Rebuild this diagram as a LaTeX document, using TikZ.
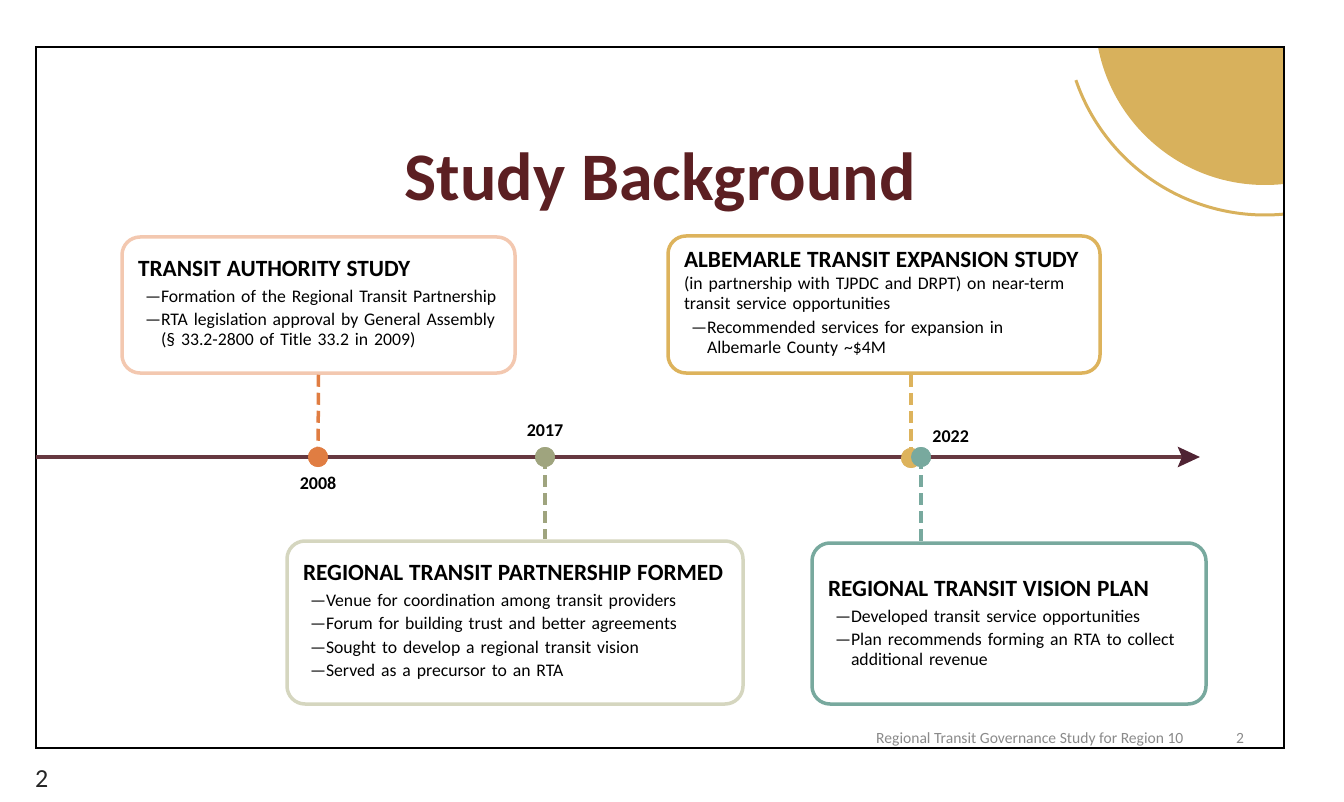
\documentclass[tikz,border=0pt]{standalone}
\usepackage{fontspec}
\setmainfont{Carlito}
\usetikzlibrary{positioning, arrows.meta, calc}
\definecolor{titlered}{HTML}{5C1F22}
\definecolor{axisline}{HTML}{663840}
\definecolor{axistip}{HTML}{4F2333}
\definecolor{peachline}{HTML}{F3C8B0}
\definecolor{orangedot}{HTML}{E07D42}
\definecolor{goldline}{HTML}{DDB35C}
\definecolor{golddeco}{HTML}{D8B15C}
\definecolor{sageline}{HTML}{D5D6BF}
\definecolor{sagedot}{HTML}{9FA47E}
\definecolor{tealline}{HTML}{78A99E}
\definecolor{footgray}{HTML}{8A8A8A}

\newcommand{\tltitle}[1]{{\fontsize{23.3}{26}\selectfont\bfseries #1\par}\vskip2pt}
\newcommand{\tlitem}[1]{\vskip3.5pt\leftskip=7pt\hangindent=16pt\hangafter=1\noindent\makebox[16pt][l]{—}#1\par}

\begin{document}
\begin{tikzpicture}[
    x=1pt, y=-1pt,
    font=\fontsize{17.7}{20}\selectfont,
    milestone/.style={rectangle, rounded corners=18pt, draw=#1, line width=3.5pt, fill=white,
      inner xsep=16pt, inner ysep=0pt, align=left},
    yeardot/.style={circle, fill=#1, minimum size=20pt, inner sep=0pt},
    yearlabel/.style={inner sep=0pt, font=\fontsize{18}{20}\selectfont\bfseries},
    linkline/.style={draw=#1, line width=3.5pt, dash pattern=on 12pt off 6pt}
]
    \useasboundingbox (0,0) rectangle (1344,802);

    % corner decoration
    \begin{scope}
      \clip (36,47) rectangle (1284,748);
      \fill[golddeco] (1265,15) circle[radius=170];
    \end{scope}
    \draw[golddeco, line width=3pt] (1265,15) ++(161:200) arc[start angle=161, end angle=84.5, radius=200];

    % slide frame
    \draw[line width=2pt] (36,47) rectangle (1284,748);

    % title
    \node[anchor=base, text=titlered, font=\fontsize{68}{70}\selectfont\bfseries] (title) at (660,201) {Study Background};

    % milestone boxes
    \node[milestone=peachline, minimum width=393pt, minimum height=136pt, text width=361pt] (authority) at (318.5,305)
      {\tltitle{TRANSIT AUTHORITY STUDY}
       \tlitem{Formation of the Regional Transit Partnership}
       \tlitem{RTA legislation approval by General Assembly\newline (§ 33.2-2800 of Title 33.2 in 2009)}};
    \node[milestone=goldline, minimum width=432pt, minimum height=137pt, text width=400pt] (expansion) at (884,304.5)
      {\tltitle{ALBEMARLE TRANSIT EXPANSION STUDY}
       (in partnership with TJPDC and DRPT) on near-term\newline transit service opportunities\par
       \tlitem{Recommended services for expansion in\newline Albemarle County \char`~\$4M}};
    \node[milestone=sageline, minimum width=456pt, minimum height=163pt, text width=424pt] (partnership) at (515,622.5)
      {\tltitle{REGIONAL TRANSIT PARTNERSHIP FORMED}
       \tlitem{Venue for coordination among transit providers}
       \tlitem{Forum for building trust and better agreements}
       \tlitem{Sought to develop a regional transit vision}
       \tlitem{Served as a precursor to an RTA}};
    \node[milestone=tealline, minimum width=394pt, minimum height=161pt, text width=362pt] (visionplan) at (1009,623.5)
      {\tltitle{REGIONAL TRANSIT VISION PLAN}
       \tlitem{Developed transit service opportunities}
       \tlitem{Plan recommends forming an RTA to collect\newline additional revenue}};

    % timeline
    \coordinate (tlstart) at (36,457);
    \coordinate (tlend) at (1200,457);
    \node[yeardot=orangedot] (y2008) at (318,457) {};
    \node[yeardot=sagedot] (y2017) at (545,457) {};
    \node[yeardot=goldline] (y2022a) at (911,458) {};
    \node[yeardot=tealline] (y2022b) at (921,457) {};

    \draw[linkline=orangedot] (authority.south) -- (y2008.center);
    \draw[linkline=sagedot] (y2017.center) -- (partnership.north -| y2017);
    \draw[linkline=goldline] (expansion.south -| y2022a) -- (y2022a.center);
    \draw[linkline=tealline] (y2022b.center) -- (visionplan.north -| y2022b);

    \draw[axisline, line width=4pt, -{Stealth[length=22pt, width=20pt, inset=4pt, color=axistip]}] (tlstart) -- (tlend);

    \node[yeardot=orangedot] at (y2008) {};
    \node[yeardot=sagedot] at (y2017) {};
    \node[yeardot=goldline] at (y2022a) {};
    \node[yeardot=tealline] at (y2022b) {};

    \node[yearlabel, below=10pt of y2008] (lab2008) {2008};
    \node[yearlabel, above=10pt of y2017] (lab2017) {2017};
    \node[yearlabel, above right=7pt and 4pt of y2022b] (lab2022) {2022};

    % footer
    \node[anchor=base west, inner sep=0pt, text=footgray, font=\fontsize{15.6}{17}\selectfont] (footer) at (876,743) {Regional Transit Governance Study for Region 10};
    \node[anchor=base west, inner sep=0pt, text=footgray, font=\fontsize{15.6}{17}\selectfont] (slidenum) at (1236,743) {2};
    \node[anchor=base west, inner sep=0pt, text=black!85, font=\fontsize{26}{28}\selectfont] (pagenum) at (35,787) {2};
\end{tikzpicture}
\end{document}
